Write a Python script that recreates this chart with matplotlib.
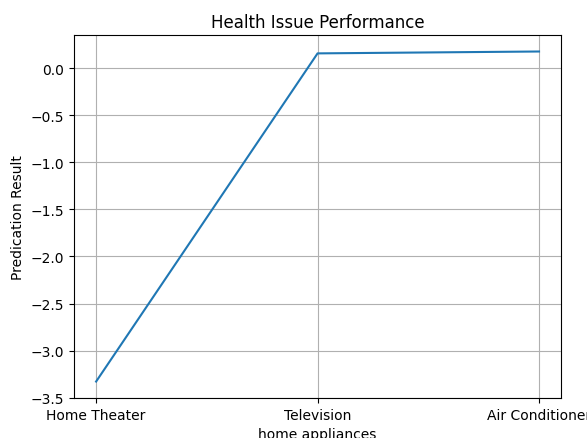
import matplotlib
matplotlib.use('Agg')
import matplotlib.pyplot as plt

appliances = ['Home Theater', 'Television', 'Air Conditioner']
results = [-3.33, 0.16, 0.18]

fig = plt.figure(figsize=(5.87, 4.39), dpi=100)
ax = fig.add_subplot(111)
fig.subplots_adjust(left=0.126, right=0.956, top=0.918, bottom=0.091)

ax.plot(appliances, results, color='#1f77b4')
ax.set_title("Health Issue Performance")
ax.set_xlabel("home appliances")
ax.set_ylabel("Predication Result")
ax.grid(True)

fig.savefig('out.png', dpi=100)
plt.close(fig)
